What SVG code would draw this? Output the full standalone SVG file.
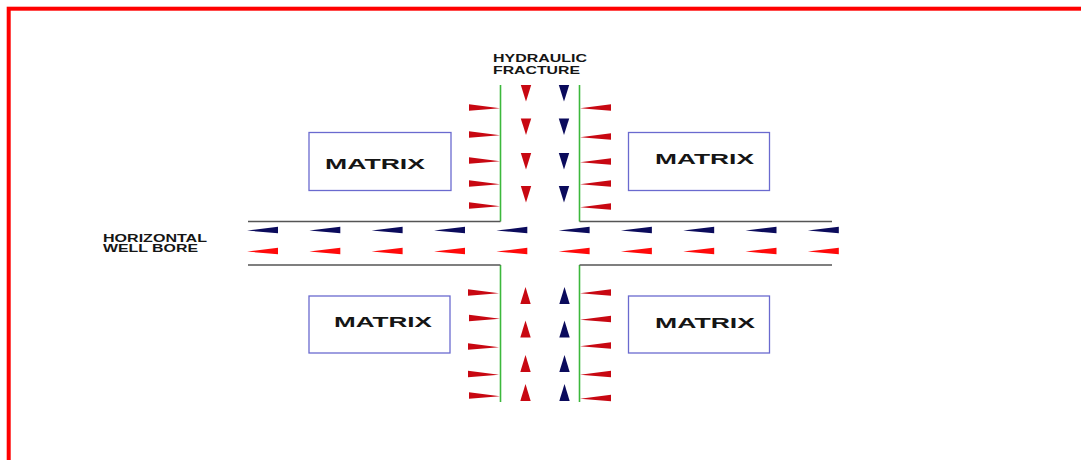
<svg xmlns="http://www.w3.org/2000/svg" xmlns:xlink="http://www.w3.org/1999/xlink" width="1081" height="460" viewBox="0 0 1081 460">
  <style>
    .frame { fill: none; stroke: #ff0000; stroke-width: 4; }
    .box { fill: #ffffff; stroke: #6a6acf; stroke-width: 1.3; }
    .bore { stroke: #555555; stroke-width: 1.6; fill: none; }
    .frac { stroke: #3cb83c; stroke-width: 1.6; fill: none; }
    .lbl { font-family: "Liberation Sans", Arial, sans-serif; font-weight: bold; fill: #151515; }
    .mtx { font-size: 14px; }
    .cap { font-size: 11.5px; }
    .navy { fill: #0b0b5c; }
    .red { fill: #ff0a0a; }
    .dred { fill: #c80812; }
  </style>
  <defs>
    <!-- flow arrowheads, origin at tip (or base for side arrows) -->
    <polygon id="wl" points="0,0.6 31,-3.2 31,3.2"/>
    <polygon id="fd" points="-5.2,0 5.2,0 0,16.5"/>
    <polygon id="fu" points="0,0 -5.2,17 5.2,17"/>
    <polygon id="sr" points="0,-3.2 0,3.2 31,0.8"/>
    <polygon id="sl" points="0,0.8 31,-3.2 31,3.2"/>
  </defs>

  <rect class="frame" x="8.7" y="8.7" width="1100" height="500"/>

  <!-- matrix blocks -->
  <g id="matrix-tl">
    <rect class="box" x="309" y="132.5" width="142" height="58"/>
    <text class="lbl mtx" x="325" y="168.5" textLength="100" lengthAdjust="spacingAndGlyphs">MATRIX</text>
  </g>
  <g id="matrix-tr">
    <rect class="box" x="628.5" y="132.5" width="141" height="58"/>
    <text class="lbl mtx" x="655" y="164" textLength="99" lengthAdjust="spacingAndGlyphs">MATRIX</text>
  </g>
  <g id="matrix-bl">
    <rect class="box" x="309" y="296" width="141" height="57"/>
    <text class="lbl mtx" x="334" y="326.5" textLength="98" lengthAdjust="spacingAndGlyphs">MATRIX</text>
  </g>
  <g id="matrix-br">
    <rect class="box" x="628.5" y="296" width="141" height="57"/>
    <text class="lbl mtx" x="655" y="328" textLength="100" lengthAdjust="spacingAndGlyphs">MATRIX</text>
  </g>

  <!-- hydraulic fracture walls -->
  <g id="fracture">
    <line class="frac" x1="500.5" y1="85" x2="500.5" y2="221.5"/>
    <line class="frac" x1="579.5" y1="85" x2="579.5" y2="221.5"/>
    <line class="frac" x1="500.5" y1="265" x2="500.5" y2="402"/>
    <line class="frac" x1="579.5" y1="265" x2="579.5" y2="402"/>
    <text class="lbl cap" x="493" y="62" textLength="94" lengthAdjust="spacingAndGlyphs">HYDRAULIC</text>
    <text class="lbl cap" x="493" y="73.5" textLength="87" lengthAdjust="spacingAndGlyphs">FRACTURE</text>
  </g>

  <!-- horizontal well bore walls -->
  <g id="wellbore">
    <line class="bore" x1="248" y1="221.5" x2="500.5" y2="221.5"/>
    <line class="bore" x1="579.5" y1="221.5" x2="832" y2="221.5"/>
    <line class="bore" x1="248" y1="265" x2="500.5" y2="265"/>
    <line class="bore" x1="579.5" y1="265" x2="832" y2="265"/>
    <text class="lbl cap" x="103" y="241.7" textLength="104" lengthAdjust="spacingAndGlyphs">HORIZONTAL</text>
    <text class="lbl cap" x="103" y="252.3" textLength="95" lengthAdjust="spacingAndGlyphs">WELL BORE</text>
  </g>

  <!-- flow direction arrows -->
  <g id="flow-arrows">
    <!-- along the well bore, toward the heel -->
    <g class="navy">
      <use xlink:href="#wl" x="247" y="230"/>
      <use xlink:href="#wl" x="309.3" y="230"/>
      <use xlink:href="#wl" x="371.6" y="230"/>
      <use xlink:href="#wl" x="434" y="230"/>
      <use xlink:href="#wl" x="496.3" y="230"/>
      <use xlink:href="#wl" x="558.6" y="230"/>
      <use xlink:href="#wl" x="620.9" y="230"/>
      <use xlink:href="#wl" x="683.2" y="230"/>
      <use xlink:href="#wl" x="745.5" y="230"/>
      <use xlink:href="#wl" x="807.8" y="230"/>
    </g>
    <g class="red">
      <use xlink:href="#wl" x="247" y="251"/>
      <use xlink:href="#wl" x="309.3" y="251"/>
      <use xlink:href="#wl" x="371.6" y="251"/>
      <use xlink:href="#wl" x="434" y="251"/>
      <use xlink:href="#wl" x="496.3" y="251"/>
      <use xlink:href="#wl" x="558.6" y="251"/>
      <use xlink:href="#wl" x="620.9" y="251"/>
      <use xlink:href="#wl" x="683.2" y="251"/>
      <use xlink:href="#wl" x="745.5" y="251"/>
      <use xlink:href="#wl" x="807.8" y="251"/>
    </g>

    <!-- down the upper fracture wing -->
    <g class="dred">
      <use xlink:href="#fd" x="526" y="85"/>
      <use xlink:href="#fd" x="526" y="118.5"/>
      <use xlink:href="#fd" x="526" y="153"/>
      <use xlink:href="#fd" x="526" y="186"/>
    </g>
    <g class="navy">
      <use xlink:href="#fd" x="564" y="85"/>
      <use xlink:href="#fd" x="564" y="118.5"/>
      <use xlink:href="#fd" x="564" y="153"/>
      <use xlink:href="#fd" x="564" y="186"/>
    </g>

    <!-- up the lower fracture wing -->
    <g class="dred">
      <use xlink:href="#fu" x="525.5" y="287"/>
      <use xlink:href="#fu" x="525.5" y="320.5"/>
      <use xlink:href="#fu" x="525.5" y="355"/>
      <use xlink:href="#fu" x="525.5" y="384"/>
    </g>
    <g class="navy">
      <use xlink:href="#fu" x="564.5" y="287"/>
      <use xlink:href="#fu" x="564.5" y="320.5"/>
      <use xlink:href="#fu" x="564.5" y="355"/>
      <use xlink:href="#fu" x="564.5" y="384"/>
    </g>

    <!-- matrix into fracture -->
    <g class="dred">
      <use xlink:href="#sr" x="469" y="107.5"/>
      <use xlink:href="#sr" x="469" y="134.5"/>
      <use xlink:href="#sr" x="469" y="160.5"/>
      <use xlink:href="#sr" x="469" y="183.5"/>
      <use xlink:href="#sr" x="469" y="205.5"/>
      <use xlink:href="#sl" x="580" y="107.5"/>
      <use xlink:href="#sl" x="580" y="136.5"/>
      <use xlink:href="#sl" x="580" y="161.5"/>
      <use xlink:href="#sl" x="580" y="183.5"/>
      <use xlink:href="#sl" x="580" y="206.5"/>
      <use xlink:href="#sr" x="468" y="292.5"/>
      <use xlink:href="#sr" x="469" y="318"/>
      <use xlink:href="#sr" x="468" y="346.5"/>
      <use xlink:href="#sr" x="468" y="374"/>
      <use xlink:href="#sr" x="469" y="395.5"/>
      <use xlink:href="#sl" x="580" y="292.5"/>
      <use xlink:href="#sl" x="580" y="319"/>
      <use xlink:href="#sl" x="580" y="345.5"/>
      <use xlink:href="#sl" x="580" y="374"/>
      <use xlink:href="#sl" x="580" y="398"/>
    </g>
  </g>
</svg>
